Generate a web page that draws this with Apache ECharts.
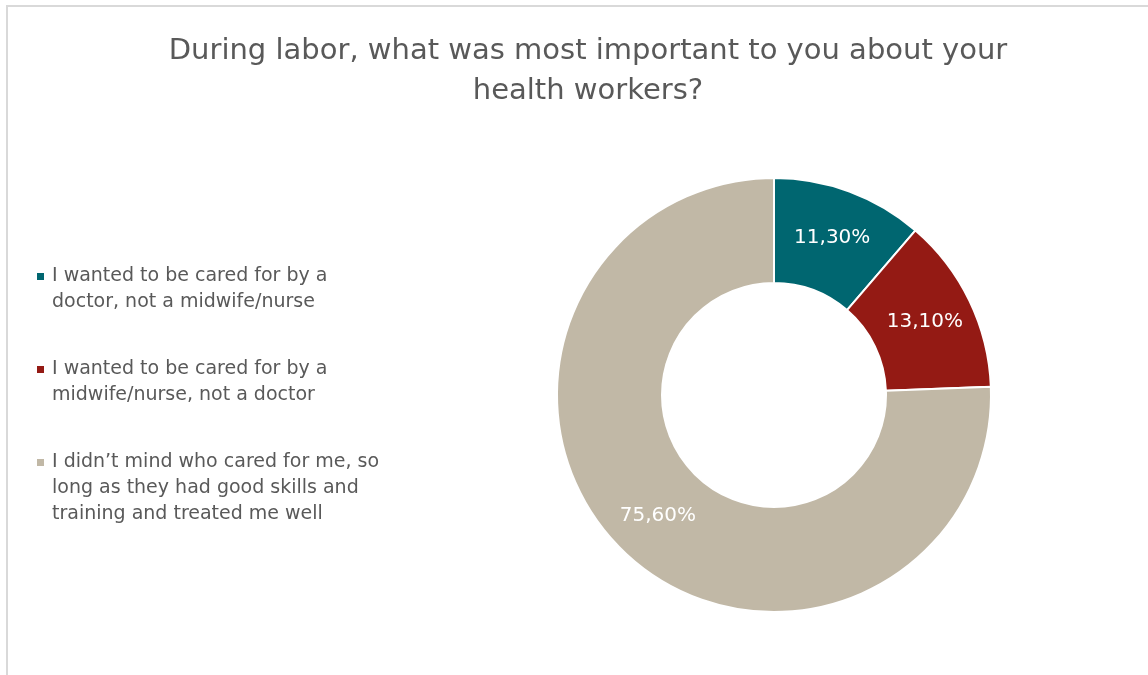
<!DOCTYPE html>
<html><head><meta charset="utf-8">
<script src="https://cdn.jsdelivr.net/npm/echarts@6/dist/echarts.min.js"></script>
<style>html,body{margin:0;padding:0;background:#fff}#c{width:1148px;height:675px}</style>
</head><body><div id="c"></div>
<script>
const titleText = 'During labor, what was most important to you about your\nhealth workers?';
const categories = [
  'I wanted to be cared for by a doctor, not a midwife/nurse',
  'I wanted to be cared for by a midwife/nurse, not a doctor',
  'I didn\u2019t mind who cared for me, so long as they had good skills and training and treated me well'
];
const legendLines = [
  ['I wanted to be cared for by a', 'doctor, not a midwife/nurse'],
  ['I wanted to be cared for by a', 'midwife/nurse, not a doctor'],
  ['I didn\u2019t mind who cared for me, so', 'long as they had good skills and', 'training and treated me well']
];
const values = [11.3, 13.1, 75.6];
const colors = ['#006670', '#941a14', '#c1b8a6'];

const FONT = 'DejaVu Sans';
const rich = { t: {fontSize: 19, color: '#595959', fontFamily: FONT, lineHeight: 26},
               sp: {width: 15, height: 7} };
colors.forEach((c, i) => { rich['sq' + i] = {backgroundColor: c, width: 7, height: 7, lineHeight: 26}; rich['g'+i] = {width: 8}; });

const chart = echarts.init(document.getElementById('c'));
chart.setOption({
  backgroundColor: '#fff',
  title: {
    text: titleText, left: 583, top: 26, textAlign: 'center',
    textStyle: {fontFamily: FONT, fontSize: 29, fontWeight: 'normal', color: '#595959', lineHeight: 40}
  },
  graphic: [{type: 'polyline', shape: {points: [[7, 675], [7, 6], [1148, 6]]},
             style: {stroke: '#d9d9d9', lineWidth: 2, fill: null}, silent: true}],
  legend: {
    orient: 'vertical', left: 26, top: 262, itemGap: 48,
    itemWidth: 0, itemHeight: 0, icon: 'rect',
    formatter: function (name) {
      const i = categories.indexOf(name);
      return legendLines[i].map((l, k) => (k === 0 ? '{sq' + i + '|}{g' + i + '|}' : '{sp|}') + '{t|' + l + '}').join('\n');
    },
    textStyle: {rich: rich, fontFamily: FONT, fontSize: 19, color: '#595959'}
  },
  series: [{
    type: 'pie', center: [774, 395], radius: [112, 217], startAngle: 90, clockwise: true,
    avoidLabelOverlap: false,
    itemStyle: {borderColor: '#fff', borderWidth: 2},
    label: {show: true, position: 'inside', color: '#fff', fontSize: 20, fontFamily: FONT,
            formatter: p => p.value.toFixed(2).replace('.', ',') + '%'},
    labelLine: {show: false},
    emphasis: {scale: false},
    data: categories.map((n, i) => ({name: n, value: values[i], itemStyle: {color: colors[i]}}))
  }]
});
</script></body></html>
